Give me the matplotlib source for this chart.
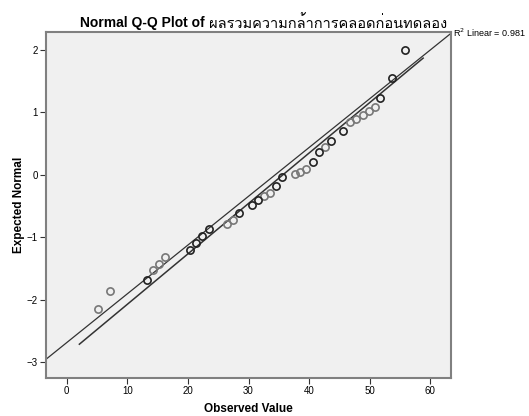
import numpy as np
import matplotlib
matplotlib.use('Agg')
import matplotlib.pyplot as plt
from matplotlib import font_manager
from matplotlib.ft2font import FT2Font

title_en = 'Normal Q-Q Plot of '
title_th = 'ผลรวมความกล้าการคลอดก่อนทดลอง'
xlabel = 'Observed Value'
ylabel = 'Expected Normal'
r2_label = 'Linear = 0.981'

observed = [5.1, 7.1, 13.2, 14.2, 15.2, 16.3, 20.3, 21.3, 22.3, 23.4, 26.5, 27.5,
            28.4, 30.5, 31.5, 32.5, 33.5, 34.5, 35.6, 37.6, 38.5, 39.5, 40.6, 41.6,
            42.6, 43.6, 45.6, 46.7, 47.7, 48.8, 49.8, 50.8, 51.7, 53.7, 55.8]
expected = [-2.14, -1.86, -1.68, -1.53, -1.42, -1.32, -1.20, -1.09, -0.98, -0.87, -0.79, -0.72,
            -0.61, -0.48, -0.40, -0.34, -0.30, -0.18, -0.04, 0.01, 0.05, 0.09, 0.21, 0.37,
            0.45, 0.54, 0.70, 0.85, 0.89, 0.96, 1.01, 1.08, 1.23, 1.54, 1.99]
# 1 = overlapping (darker) points
dark = [0, 0, 1, 0, 0, 0, 1, 1, 1, 1, 0, 0,
        1, 1, 1, 0, 0, 1, 1, 0, 0, 0, 1, 1,
        0, 1, 1, 0, 0, 0, 0, 0, 1, 1, 1]

# fit line (R2 linear) as drawn in the picture
fit_slope = 0.078
fit_intercept = -2.685

# normal reference line
norm_mean = 35.7
norm_sd = 12.4
norm_range = [2.1, 58.8]

xticks = [0, 10, 20, 30, 40, 50, 60]
yticks = [-3, -2, -1, 0, 1, 2]

# find a font that has thai glyphs
thai_font = None
for f in font_manager.fontManager.ttflist:
    try:
        if ord('ก') in FT2Font(f.fname).get_charmap():
            thai_font = f.name
            break
    except Exception:
        pass

plt.rcParams['font.family'] = ['Liberation Sans', 'DejaVu Sans']

fig = plt.figure(figsize=(5.29, 4.16), dpi=100)
ax = fig.add_axes([0.087, 0.0913, 0.7656, 0.8317])
ax.set_facecolor('#f0f0f0')

x = np.array(observed)
y = np.array(expected)
d = np.array(dark) == 1
ax.plot(x[~d], y[~d], 'o', mfc='none', mec='#777777', ms=5.2, mew=1.2, zorder=3)
ax.plot(x[d], y[d], 'o', mfc='none', mec='#222222', ms=5.2, mew=1.2, zorder=4)

xlim = (-3.4, 63.4)
ax.set_xlim(xlim)
ax.set_ylim(-3.25, 2.28)

xs = np.array(xlim)
ax.plot(xs, fit_slope * xs + fit_intercept, color='#333333', lw=0.9, zorder=2)
xn = np.array(norm_range)
ax.plot(xn, (xn - norm_mean) / norm_sd, color='#333333', lw=1.1, zorder=2)

ax.set_xticks(xticks)
ax.set_yticks(yticks)
ax.tick_params(labelsize=7, length=4, width=0.8, color='#333333', pad=2)
for s in ax.spines.values():
    s.set_color('#808080')
    s.set_linewidth(1.5)

ax.set_xlabel(xlabel, fontsize=8.5, fontweight='bold', labelpad=5)
ax.set_ylabel(ylabel, fontsize=8.5, fontweight='bold', labelpad=1)

ax.text(1.005, fit_slope * xlim[1] + fit_intercept, 'R$^2$ ' + r2_label,
        transform=ax.get_yaxis_transform(), fontsize=6.5, va='center', ha='left', clip_on=False)

t1 = fig.text(80 / 529, 1 - 23 / 416, title_en, fontsize=10, fontweight='bold', va='center', ha='left')
fig.canvas.draw()
bb = t1.get_window_extent()
th_family = [thai_font, 'DejaVu Sans'] if thai_font else ['DejaVu Sans']
fig.text(bb.x1 / fig.bbox.width, 1 - 23 / 416, title_th, fontsize=10.5, family=th_family,
         va='center', ha='left')

fig.savefig('out.png', dpi=100)
